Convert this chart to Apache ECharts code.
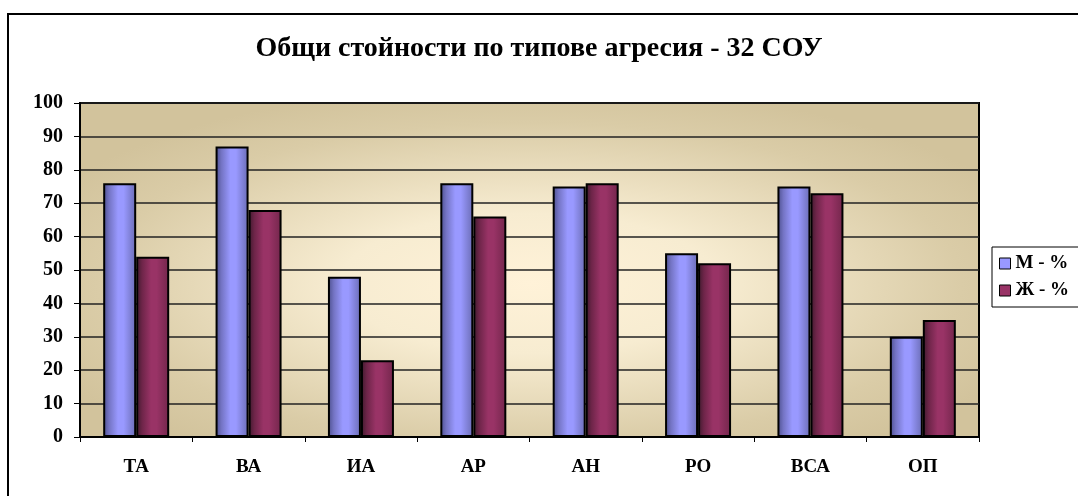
<!DOCTYPE html>
<html>
<head>
<meta charset="utf-8">
<script src="https://cdn.jsdelivr.net/npm/echarts@6/dist/echarts.min.js"></script>
<style>
  html, body { margin: 0; padding: 0; background: #fff; }
  #chart { width: 1078px; height: 496px; }
</style>
</head>
<body>
<div id="chart"></div>
<script>
// категории и стойности (%)
var categories = ['ТА', 'ВА', 'ИА', 'АР', 'АН', 'РО', 'ВСА', 'ОП'];
var male = [76, 87, 48, 76, 75, 55, 75, 30];
var female = [54, 68, 23, 66, 76, 52, 73, 35];
var yTicks = { min: 0, max: 100, interval: 10 };

var FONT = '"Liberation Serif", "Times New Roman", serif';

// размери на полето за чертане
var plotLeft = 80, plotTop = 103, plotRight = 99, plotBottom = 59;
var plotW = 1078 - plotLeft - plotRight;
var plotH = 496 - plotTop - plotBottom;

function barGradient(dark, mid, light, right){
    return new echarts.graphic.LinearGradient(0, 0, 1, 0, [
        {offset: 0, color: dark},
        {offset: 0.18, color: mid},
        {offset: 0.45, color: light},
        {offset: 0.62, color: light},
        {offset: 1, color: right}
    ]);
}

var chart = echarts.init(document.getElementById('chart'));
var option = {
    animation: false,
    title: {
        text: 'Общи стойности по типове агресия - 32 СОУ',
        left: 'center',
        top: 30,
        textStyle: {
            color: '#000',
            fontFamily: FONT,
            fontWeight: 'bold',
            fontSize: 28
        }
    },
    graphic: [
        {
            // външна рамка
            type: 'rect',
            shape: {x: 8, y: 14, width: 1100, height: 520},
            style: {fill: 'none', stroke: '#000', lineWidth: 2},
            z: 10
        },
        {
            // фон на полето (елиптичен градиент)
            type: 'rect',
            x: plotLeft,
            y: plotTop,
            scaleY: plotH / plotW,
            shape: {x: 0, y: 0, width: plotW, height: plotW},
            style: {
                fill: new echarts.graphic.RadialGradient(0.5, 0.54, 0.6, [
                    {offset: 0, color: '#fff2d8'},
                    {offset: 0.35, color: '#f7ecd1'},
                    {offset: 0.8, color: '#dacca7'},
                    {offset: 1, color: '#d2c39c'}
                ])
            },
            z: -10,
            silent: true
        }
    ],
    legend: {
        orient: 'vertical',
        left: 992,
        top: 247,
        padding: [7, 40, 7, 7],
        itemGap: 8,
        itemWidth: 11,
        itemHeight: 11,
        borderColor: '#000',
        borderWidth: 1,
        backgroundColor: '#fff',
        textStyle: {
            color: '#000',
            fontFamily: FONT,
            fontWeight: 'bold',
            fontSize: 19
        },
        data: [
            {name: 'М - %', icon: 'rect', itemStyle: {color: '#9999ff', borderColor: '#000', borderWidth: 1}},
            {name: 'Ж - %', icon: 'rect', itemStyle: {color: '#993366', borderColor: '#000', borderWidth: 1}}
        ]
    },
    grid: {
        left: plotLeft,
        top: plotTop,
        right: plotRight,
        bottom: plotBottom,
        show: true,
        borderColor: '#000',
        borderWidth: 2,
        backgroundColor: 'transparent'
    },
    xAxis: {
        type: 'category',
        data: categories,
        axisLine: {show: true, lineStyle: {color: '#000', width: 2}},
        axisTick: {show: true, length: 5, lineStyle: {color: '#000'}},
        axisLabel: {
            margin: 21,
            color: '#000',
            fontFamily: FONT,
            fontWeight: 'bold',
            fontSize: 19
        }
    },
    yAxis: {
        type: 'value',
        min: yTicks.min,
        max: yTicks.max,
        interval: yTicks.interval,
        axisLine: {show: true, lineStyle: {color: '#000', width: 2}},
        axisTick: {show: true, length: 6, lineStyle: {color: '#000'}},
        splitLine: {show: true, lineStyle: {color: '#222', width: 1.5}},
        axisLabel: {
            margin: 17,
            color: '#000',
            fontFamily: FONT,
            fontWeight: 'bold',
            fontSize: 20
        }
    },
    series: [
        {
            name: 'М - %',
            type: 'bar',
            data: male,
            barWidth: 33,
            barGap: '0%',
            itemStyle: {
                color: barGradient('#4b4e8c', '#7474c4', '#9999ff', '#6a6cb4'),
                borderColor: '#000',
                borderWidth: 2
            }
        },
        {
            name: 'Ж - %',
            type: 'bar',
            data: female,
            barWidth: 33,
            itemStyle: {
                color: barGradient('#3d1a2c', '#6e2549', '#993366', '#72264b'),
                borderColor: '#000',
                borderWidth: 2
            }
        }
    ]
};
chart.setOption(option);
</script>
</body>
</html>
